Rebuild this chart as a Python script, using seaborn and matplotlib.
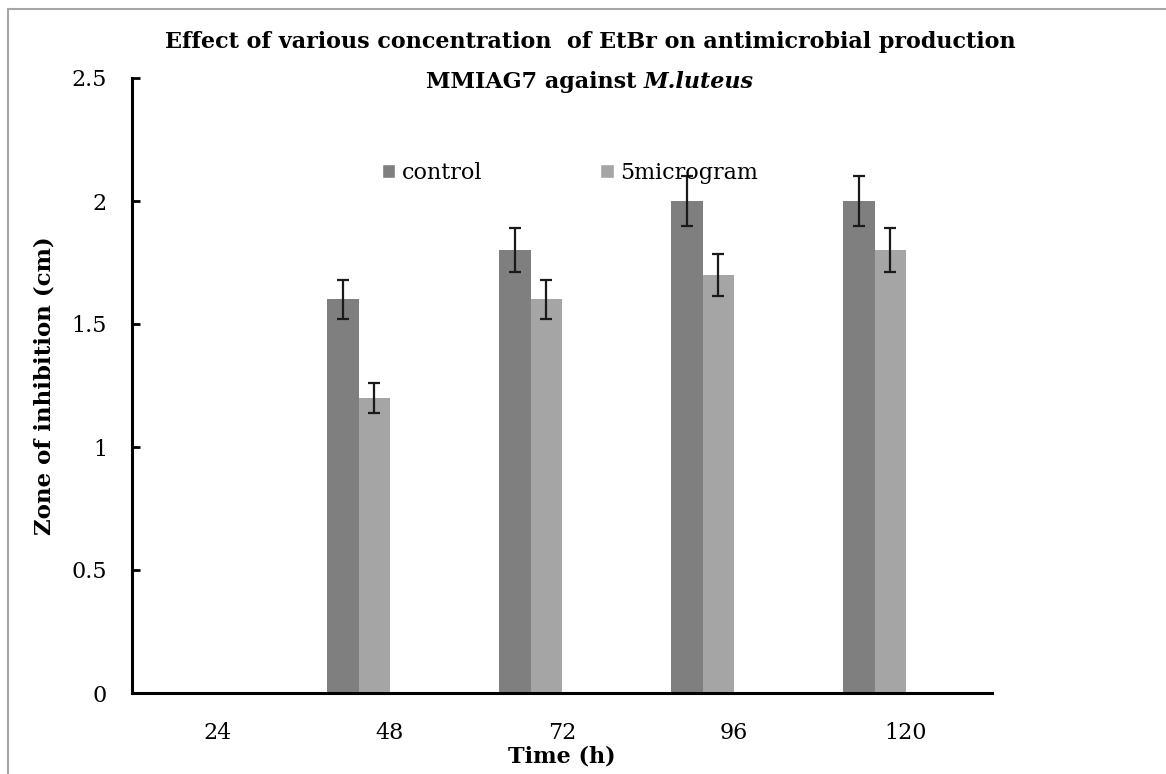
import pandas as pd
import seaborn as sns
import matplotlib.pyplot as plt
from matplotlib.lines import Line2D
from matplotlib.patches import Patch

# values (zone of inhibition, cm)
times = ['24', '48', '72', '96', '120']
control = [0, 1.6, 1.8, 2.0, 2.0]
microgram5 = [0, 1.2, 1.6, 1.7, 1.8]
control_err = [0, 0.08, 0.09, 0.10, 0.10]
microgram5_err = [0, 0.06, 0.08, 0.085, 0.09]
# the original sheet had two more (empty) series, which keeps the bars left of centre
empty_series = [0, 0, 0, 0, 0]

series_names = ['control', '5microgram', 'empty1', 'empty2']
series_values = [control, microgram5, empty_series, empty_series]
series_errors = [control_err, microgram5_err, empty_series, empty_series]
colors = ['#7f7f7f', '#a5a5a5', '#ffffff', '#ffffff']

rows = []
for name, vals in zip(series_names, series_values):
    for t, v in zip(times, vals):
        rows.append({'time': t, 'zone': v, 'series': name})
df = pd.DataFrame(rows)

sns.set_style('white')
plt.rcParams['font.family'] = ['DejaVu Serif']
plt.rcParams['text.color'] = 'black'
plt.rcParams['axes.labelcolor'] = 'black'
plt.rcParams['xtick.color'] = 'black'
plt.rcParams['ytick.color'] = 'black'

fig = plt.figure(figsize=(11.66, 7.74), dpi=100)
ax = fig.add_axes([132 / 1166, 1 - 693 / 774, 860 / 1166, 615 / 774])

sns.barplot(data=df, x='time', y='zone', hue='series', order=times,
            hue_order=series_names, palette=colors, width=4 / 5.5,
            saturation=1, errorbar=None, legend=False, linewidth=0, ax=ax)

# error bars at the centre of each drawn bar
for cont, errs in zip(ax.containers[:2], series_errors[:2]):
    for bar, e in zip(cont, errs):
        if e > 0:
            ax.errorbar(bar.get_x() + bar.get_width() / 2, bar.get_height(), yerr=e,
                        fmt='none', ecolor='#1a1a1a', elinewidth=1.6, capsize=4.6,
                        capthick=1.6, zorder=5)

ax.set_ylim(0, 2.5)
ax.set_yticks([0, 0.5, 1, 1.5, 2, 2.5])
ax.set_yticklabels(['0', '0.5', '1', '1.5', '2', '2.5'])
ax.set_xlim(-0.5, 4.5)
ax.set_xticks([-0.5, 0.5, 1.5, 2.5, 3.5, 4.5], minor=True)
ax.tick_params(axis='x', which='major', length=0, pad=21, labelsize=16)
ax.tick_params(axis='x', which='minor', direction='in', length=6, width=2, color='black')
ax.tick_params(axis='y', direction='in', length=6, width=2, color='black', pad=18, labelsize=16, left=True)

for side in ['top', 'right']:
    ax.spines[side].set_visible(False)
for side in ['left', 'bottom']:
    ax.spines[side].set_color('black')
    ax.spines[side].set_linewidth(2.2)

ax.set_xlabel('Time (h)', fontsize=16, fontweight='bold')
ax.xaxis.label.set_va('center')
ax.xaxis.set_label_coords(0.5, (693 - 757) / 615)
ax.set_ylabel('Zone of inhibition (cm)', fontsize=16.5, fontweight='bold')
ax.yaxis.label.set_va('center')
ax.yaxis.set_label_coords((45 - 132) / 860, 0.5)

handles = [Patch(facecolor=colors[0]), Patch(facecolor=colors[1])]
ax.legend(handles, series_names[:2], loc='center left', bbox_to_anchor=((382 - 132) / 860, (693 - 173) / 615),
          ncol=2, frameon=False, fontsize=16, handlelength=0.6, handleheight=0.6,
          handletextpad=0.3, columnspacing=5.3, borderpad=0, borderaxespad=0)

# title, second line has the italic organism name
fig.text(590 / 1166, 1 - 42 / 774, 'Effect of various concentration  of EtBr on antimicrobial production',
         ha='center', va='center', fontsize=16, fontweight='bold')
t1 = fig.text(0, 1 - 82 / 774, 'MMIAG7 against', ha='left', va='center', fontsize=16, fontweight='bold')
t2 = fig.text(0, 1 - 82 / 774, 'M.luteus', ha='left', va='center', fontsize=16,
              fontweight='bold', fontstyle='italic')
fig.canvas.draw()
r = fig.canvas.get_renderer()
w1 = t1.get_window_extent(r).width
w2 = t2.get_window_extent(r).width
gap = 7
start = 590 - (w1 + gap + w2) / 2
t1.set_x(start / 1166)
t2.set_x((start + w1 + gap) / 1166)

# chart area border (left and top edges only are in view)
fig.add_artist(Line2D([8 / 1166, 8 / 1166], [0, 1 - 9 / 774], color='#a6a6a6', lw=1.5))
fig.add_artist(Line2D([8 / 1166, 1], [1 - 9 / 774, 1 - 9 / 774], color='#a6a6a6', lw=1.5))

fig.savefig('out.png', dpi=100)
